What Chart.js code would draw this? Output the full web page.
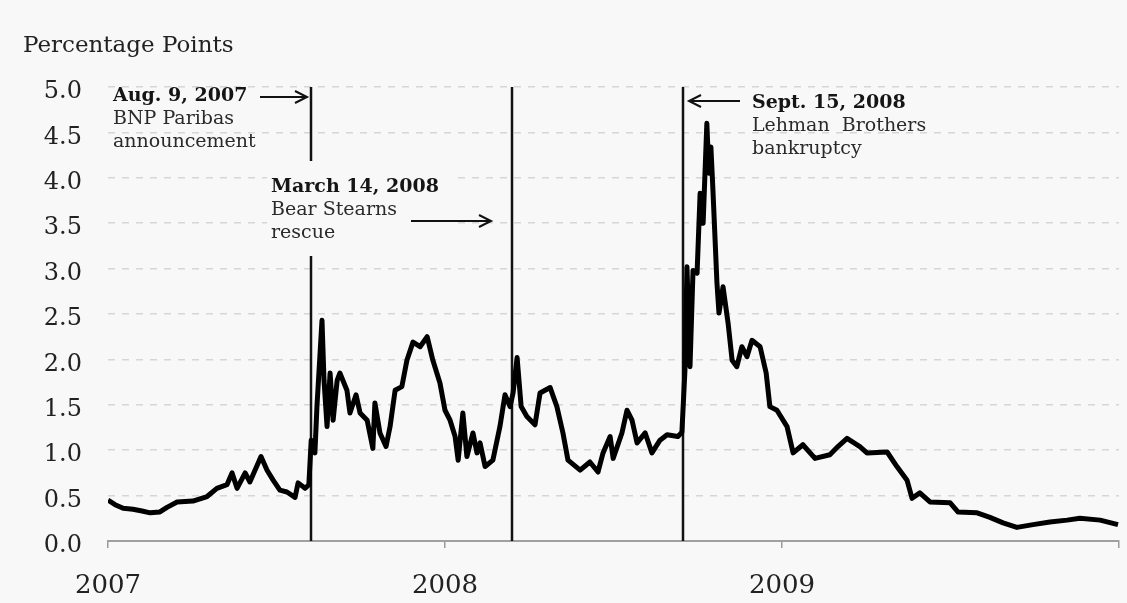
<!DOCTYPE html>
<html>
<head>
<meta charset="utf-8">
<title>Spread</title>
<script src="https://cdn.jsdelivr.net/npm/chart.js@4.4.0/dist/chart.umd.min.js"></script>
<style>
  html, body { margin: 0; padding: 0; background: #f8f8f8; }
  canvas { display: block; }
</style>
</head>
<body>
<canvas id="chart" width="1127" height="603"></canvas>
<script>
// time as decimal years
const years = [
  2007.000, 2007.021, 2007.045, 2007.074, 2007.101, 2007.125, 2007.154, 2007.175, 2007.205, 2007.252,
  2007.294, 2007.323, 2007.353, 2007.368, 2007.383, 2007.407, 2007.421, 2007.454, 2007.472, 2007.490,
  2007.510, 2007.531, 2007.555, 2007.564, 2007.585, 2007.596, 2007.603, 2007.614, 2007.620, 2007.635,
  2007.641, 2007.650, 2007.659, 2007.668, 2007.680, 2007.688, 2007.709, 2007.718, 2007.736, 2007.748,
  2007.769, 2007.786, 2007.792, 2007.807, 2007.825, 2007.837, 2007.852, 2007.872, 2007.887, 2007.905,
  2007.926, 2007.947, 2007.964, 2007.985, 2008.000, 2008.015, 2008.030, 2008.039, 2008.053, 2008.065,
  2008.083, 2008.095, 2008.104, 2008.119, 2008.142, 2008.163, 2008.178, 2008.193, 2008.202, 2008.214,
  2008.226, 2008.243, 2008.267, 2008.282, 2008.312, 2008.332, 2008.350, 2008.365, 2008.401, 2008.430,
  2008.454, 2008.469, 2008.490, 2008.499, 2008.525, 2008.540, 2008.555, 2008.570, 2008.594, 2008.614,
  2008.638, 2008.659, 2008.691, 2008.703, 2008.712, 2008.718, 2008.727, 2008.736, 2008.748, 2008.757,
  2008.766, 2008.777, 2008.783, 2008.789, 2008.795, 2008.807, 2008.813, 2008.825, 2008.840, 2008.852,
  2008.866, 2008.881, 2008.896, 2008.911, 2008.935, 2008.953, 2008.964, 2008.985, 2009.015, 2009.033,
  2009.062, 2009.098, 2009.142, 2009.166, 2009.193, 2009.231, 2009.252, 2009.312, 2009.341, 2009.371,
  2009.386, 2009.409, 2009.439, 2009.499, 2009.522, 2009.579, 2009.617, 2009.656, 2009.697, 2009.745,
  2009.795, 2009.846, 2009.884, 2009.944, 2009.997
];
const spread = [
  0.45, 0.40, 0.36, 0.35, 0.33, 0.31, 0.32, 0.37, 0.43, 0.44,
  0.49, 0.58, 0.62, 0.75, 0.58, 0.75, 0.65, 0.93, 0.78, 0.67,
  0.56, 0.54, 0.48, 0.64, 0.58, 0.62, 1.11, 0.97, 1.48, 2.43,
  1.77, 1.26, 1.85, 1.33, 1.77, 1.85, 1.66, 1.41, 1.61, 1.41,
  1.33, 1.02, 1.52, 1.19, 1.04, 1.26, 1.66, 1.70, 1.99, 2.19,
  2.14, 2.25, 1.99, 1.74, 1.44, 1.33, 1.15, 0.89, 1.41, 0.93,
  1.19, 0.97, 1.08, 0.82, 0.89, 1.26, 1.61, 1.48, 1.63, 2.02,
  1.48, 1.37, 1.28, 1.63, 1.69, 1.48, 1.19, 0.89, 0.78, 0.87,
  0.76, 0.97, 1.15, 0.91, 1.19, 1.44, 1.33, 1.08, 1.19, 0.97,
  1.11, 1.17, 1.15, 1.20, 1.88, 3.02, 1.92, 2.98, 2.95, 3.83,
  3.50, 4.60, 4.05, 4.34, 3.87, 2.84, 2.51, 2.80, 2.40, 1.99,
  1.92, 2.14, 2.03, 2.21, 2.14, 1.85, 1.48, 1.44, 1.26, 0.97,
  1.06, 0.91, 0.95, 1.04, 1.13, 1.04, 0.97, 0.98, 0.82, 0.67,
  0.47, 0.53, 0.43, 0.42, 0.32, 0.31, 0.26, 0.20, 0.15, 0.18,
  0.21, 0.23, 0.25, 0.23, 0.18
];
const yearLabels = [2007, 2008, 2009];

// events: Aug 9 2007, Mar 14 2008, Sep 15 2008
const eventYears = [2007.603, 2008.199, 2008.705];
const eventTitles = ['Aug. 9, 2007', 'March 14, 2008', 'Sept. 15, 2008'];
const eventNotes = [['BNP Paribas', 'announcement'], ['Bear Stearns', 'rescue'], ['Lehman  Brothers', 'bankruptcy']];

const BG = '#f8f8f8';
const SERIF = '"DejaVu Serif", serif';

const arrow = (ctx, x1, x2, y) => {
  const dir = x2 > x1 ? 1 : -1;
  ctx.beginPath();
  ctx.moveTo(x1, y);
  ctx.lineTo(x2, y);
  ctx.moveTo(x2 - dir * 12, y - 6);
  ctx.lineTo(x2, y);
  ctx.lineTo(x2 - dir * 12, y + 6);
  ctx.stroke();
};

const overlay = {
  id: 'overlay',
  beforeDraw(chart) {
    const ctx = chart.ctx;
    ctx.save();
    ctx.fillStyle = BG;
    ctx.fillRect(0, 0, chart.width, chart.height);
    ctx.fillStyle = '#222';
    ctx.font = '23px ' + SERIF;
    ctx.textBaseline = 'alphabetic';
    ctx.fillText('Percentage Points', 23, 52);
    ctx.restore();
  },
  beforeDatasetsDraw(chart) {
    const { ctx, chartArea, scales: { x } } = chart;
    const px = eventYears.map(v => Math.round(x.getPixelForValue(v)));
    ctx.save();
    ctx.strokeStyle = '#111';
    ctx.lineWidth = 2.5;
    px.forEach(p => {
      ctx.beginPath();
      ctx.moveTo(p, chartArea.top);
      ctx.lineTo(p, chartArea.bottom);
      ctx.stroke();
    });

    // gap in the Aug line behind the March text
    ctx.fillStyle = BG;
    ctx.fillRect(px[1] - 245, 161, 185, 95);

    const left = [px[0] - 198, px[1] - 241, px[2] + 69];
    const base = [101, 192, 108];
    ctx.textBaseline = 'alphabetic';
    eventTitles.forEach((t, i) => {
      ctx.fillStyle = '#151515';
      ctx.font = 'bold 19px ' + SERIF;
      ctx.fillText(t, left[i], base[i]);
      ctx.font = '19px ' + SERIF;
      ctx.fillStyle = '#2a2a2a';
      eventNotes[i].forEach((n, j) => ctx.fillText(n, left[i], base[i] + 23 * (j + 1)));
    });

    ctx.strokeStyle = '#111';
    ctx.lineWidth = 2;
    arrow(ctx, px[0] - 51, px[0] - 4, 97);
    arrow(ctx, px[1] - 101, px[1] - 21, 221);
    arrow(ctx, px[2] + 57, px[2] + 6, 101);
    ctx.restore();
  }
};

new Chart(document.getElementById('chart'), {
  type: 'line',
  data: {
    datasets: [{
      data: years.map((t, i) => ({ x: t, y: spread[i] })),
      borderColor: '#000',
      borderWidth: 5,
      borderJoinStyle: 'round',
      pointRadius: 0,
      tension: 0
    }]
  },
  options: {
    responsive: false,
    animation: false,
    layout: { padding: { top: 87, right: 8, left: 0, bottom: 0 } },
    plugins: {
      legend: { display: false },
      tooltip: { enabled: false }
    },
    scales: {
      x: {
        type: 'linear',
        min: 2007,
        max: 2010,
        afterFit: s => { s.height = 62; s.paddingLeft = 0; s.paddingRight = 0; },
        grid: { drawOnChartArea: false, drawTicks: true, tickLength: 7, color: '#9a9a9a', lineWidth: 1.5 },
        border: { color: '#a0a0a0', width: 2 },
        ticks: {
          stepSize: 1,
          padding: 23,
          color: '#222',
          font: { family: SERIF, size: 26 },
          callback: v => yearLabels.includes(v) ? String(v) : ''
        }
      },
      y: {
        min: 0,
        max: 5,
        afterFit: s => { s.width = 108; },
        grid: {
          drawTicks: false,
          color: c => c.tick.value === 0 ? 'rgba(0,0,0,0)' : '#d6d6d6',
          lineWidth: 1.5
        },
        border: { display: false, dash: [7, 7] },
        ticks: {
          stepSize: 0.5,
          padding: 26,
          labelOffset: 5,
          color: '#222',
          font: { family: SERIF, size: 24 },
          callback: v => v.toFixed(1)
        }
      }
    }
  },
  plugins: [overlay]
});
</script>
</body>
</html>
